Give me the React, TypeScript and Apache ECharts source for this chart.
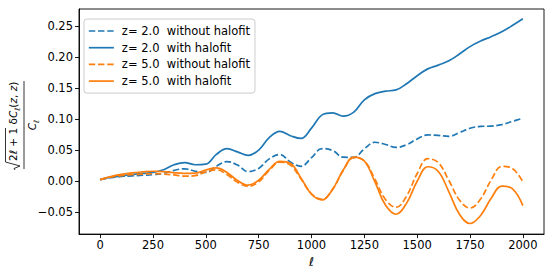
import React, { useEffect, useRef } from 'react';
import * as echarts from 'echarts';

const ell = [0, 50, 100, 150, 200, 250, 300, 350, 400, 450, 500, 550, 600, 650, 700, 750, 800, 850, 900, 950, 1000,
  1050, 1100, 1150, 1200, 1250, 1300, 1350, 1400, 1450, 1500, 1550, 1600, 1650, 1700, 1750, 1800, 1850, 1900, 1950, 2000];

const z2NoHalofit = [0.002, 0.005, 0.007, 0.008, 0.009, 0.010, 0.012, 0.017, 0.0195, 0.0155, 0.0135, 0.0236, 0.0311,
  0.0255, 0.0148, 0.0201, 0.0355, 0.0426, 0.0304, 0.0235, 0.0374, 0.0522, 0.0490, 0.0382, 0.0380, 0.0518, 0.0624,
  0.0588, 0.0540, 0.0584, 0.0678, 0.0742, 0.0735, 0.0720, 0.0780, 0.0850, 0.0880, 0.0885, 0.0910, 0.0960, 0.1014];

const z2Halofit = [0.002, 0.006, 0.008, 0.010, 0.012, 0.0135, 0.018, 0.026, 0.0295, 0.026, 0.027, 0.0427, 0.052,
  0.0468, 0.0412, 0.0498, 0.0698, 0.080, 0.073, 0.0685, 0.0853, 0.1066, 0.1100, 0.1045, 0.1110, 0.1310, 0.1410,
  0.1450, 0.1470, 0.1570, 0.1700, 0.1810, 0.1870, 0.1940, 0.2050, 0.2170, 0.2260, 0.2330, 0.2410, 0.2510, 0.2620];

const z5NoHalofit = [0.002, 0.006, 0.0085, 0.010, 0.011, 0.0115, 0.011, 0.0095, 0.0075, 0.0085, 0.0145, 0.0178, 0.0101,
  -0.0023, -0.0088, -0.0017, 0.0168, 0.0301, 0.0255, 0.0032, -0.0211, -0.0300, -0.0138, 0.0166, 0.0375, 0.0321, 0.0026,
  -0.0301, -0.0430, -0.0245, 0.0118, 0.0358, 0.0293, 0.0006, -0.0309, -0.0440, -0.0295, 0.0013, 0.0233, 0.0200, -0.0016];

const z5Halofit = [0.002, 0.007, 0.0105, 0.013, 0.0145, 0.0155, 0.015, 0.013, 0.012, 0.0125, 0.0175, 0.0210, 0.0135,
  0.0005, -0.0070, 0.0010, 0.0185, 0.0316, 0.0284, 0.0048, -0.0217, -0.0309, -0.0136, 0.0174, 0.0385, 0.0320, -0.0017,
  -0.0392, -0.0540, -0.0360, -0.0006, 0.0228, 0.0152, -0.0178, -0.0540, -0.0690, -0.0560, -0.0283, -0.0085, -0.0127, -0.0400];

const seriesNames = ['z= 2.0  without halofit', 'z= 2.0  with halofit', 'z= 5.0  without halofit', 'z= 5.0  with halofit'];
const xTicks = [0, 250, 500, 750, 1000, 1250, 1500, 1750, 2000];
const yTicks = [-0.05, 0, 0.05, 0.1, 0.15, 0.2, 0.25];

const BLUE = '#1f77b4';
const ORANGE = '#ff7f0e';
const FONT = 'DejaVu Sans';

export default function App() {
  const ref = useRef<HTMLDivElement>(null);
  useEffect(() => {
    if (!ref.current) return;
    const chart = echarts.init(ref.current, null, { renderer: 'svg' });
    const mk = (vals: number[]) => ell.map((l, i) => [l, vals[i]]);
    const dash = [6.4, 2.8];
    const mkSeries = (name: string, vals: number[], color: string, dashed: boolean) => ({
      name,
      type: 'line',
      data: mk(vals),
      symbol: 'none',
      smooth: 0.4,
      lineStyle: { color, width: 1.7, type: dashed ? dash : 'solid' },
      itemStyle: { color },
    });
    const richMath = {
      n: { fontFamily: FONT, fontSize: 10.5, color: '#000', lineHeight: 12, verticalAlign: 'top' },
      i: { fontFamily: FONT, fontSize: 10.5, fontStyle: 'italic', color: '#000', lineHeight: 12, verticalAlign: 'top' },
      s: { fontFamily: FONT, fontSize: 7.5, fontStyle: 'italic', color: '#000', lineHeight: 8, verticalAlign: 'top', padding: [6, 0, 0, 0] },
    };
    chart.setOption({
      animation: false,
      grid: { left: 79, right: 9, top: 9, bottom: 37, show: true, borderColor: '#000', borderWidth: 0.9, backgroundColor: 'transparent' },
      legend: {
        orient: 'vertical',
        left: 84,
        top: 19,
        itemWidth: 25,
        itemHeight: 12,
        itemGap: 4.7,
        padding: [6, 5, 6, 4],
        backgroundColor: 'rgba(255,255,255,0.8)',
        borderColor: '#cccccc',
        borderWidth: 1,
        borderRadius: 3,
        data: seriesNames,
        itemStyle: { opacity: 0 },
        lineStyle: { width: 1.7 },
        textStyle: { fontFamily: FONT, fontSize: 11.5, color: '#000', lineHeight: 12, height: 12, padding: [0, 0, 0, 3] },
      },
      xAxis: {
        type: 'value',
        min: -100,
        max: 2100,
        name: 'ℓ',
        nameLocation: 'middle',
        nameGap: 16,
        nameTextStyle: { fontFamily: FONT, fontSize: 12, fontStyle: 'italic', color: '#000', verticalAlign: 'top' },
        splitLine: { show: false },
        axisLine: { show: true, onZero: false, lineStyle: { color: '#000', width: 0.9 } },
        axisTick: { show: true, inside: false, length: 4, lineStyle: { color: '#000', width: 0.9 }, customValues: xTicks },
        axisLabel: { show: true, margin: 5, fontFamily: FONT, fontSize: 11.5, color: '#000', customValues: xTicks, formatter: (v: number) => String(v) },
      },
      yAxis: {
        type: 'value',
        min: -0.0861,
        max: 0.2778,
        splitLine: { show: false },
        axisLine: { show: true, onZero: false, lineStyle: { color: '#000', width: 0.9 } },
        axisTick: { show: true, inside: false, length: 4, lineStyle: { color: '#000', width: 0.9 }, customValues: yTicks },
        axisLabel: {
          show: true, margin: 6, fontFamily: FONT, fontSize: 11.5, color: '#000', customValues: yTicks,
          formatter: (v: number) => (v < -1e-9 ? '\u2212' + Math.abs(v).toFixed(2) : Math.abs(v).toFixed(2)),
        },
      },
      graphic: [
        {
          type: 'group',
          x: 24,
          y: 125,
          rotation: Math.PI / 2,
          children: [
            { type: 'line', shape: { x1: -44, y1: 0, x2: 44, y2: 0 }, style: { stroke: '#000', lineWidth: 0.8 } },
            {
              type: 'polyline',
              shape: { points: [[-45, -9], [-43.5, -10], [-41, -4], [-37, -18.5], [-3, -18.5]] },
              style: { stroke: '#000', lineWidth: 0.8, fill: 'none' },
            },
            {
              type: 'text',
              x: -36,
              y: -17,
              style: {
                text: '{n|2}{i|ℓ}{n| + 1 δ}{i|C}{s|ℓ}{n|(}{i|z}{n|, }{i|z}{n|)}',
                align: 'left',
                verticalAlign: 'top',
                fill: '#000',
                rich: richMath,
              },
            },
            {
              type: 'text',
              x: 0,
              y: 2,
              style: {
                text: '{i|C}{s|ℓ}',
                align: 'center',
                verticalAlign: 'top',
                fill: '#000',
                rich: richMath,
              },
            },
          ],
        },
      ],
      series: [
        mkSeries(seriesNames[0], z2NoHalofit, BLUE, true),
        mkSeries(seriesNames[1], z2Halofit, BLUE, false),
        mkSeries(seriesNames[2], z5NoHalofit, ORANGE, true),
        mkSeries(seriesNames[3], z5Halofit, ORANGE, false),
      ],
    });
    return () => chart.dispose();
  }, []);
  return <div ref={ref} style={{ position: 'fixed', left: 0, top: 0, width: 553, height: 273, background: '#fff' }} />;
}
